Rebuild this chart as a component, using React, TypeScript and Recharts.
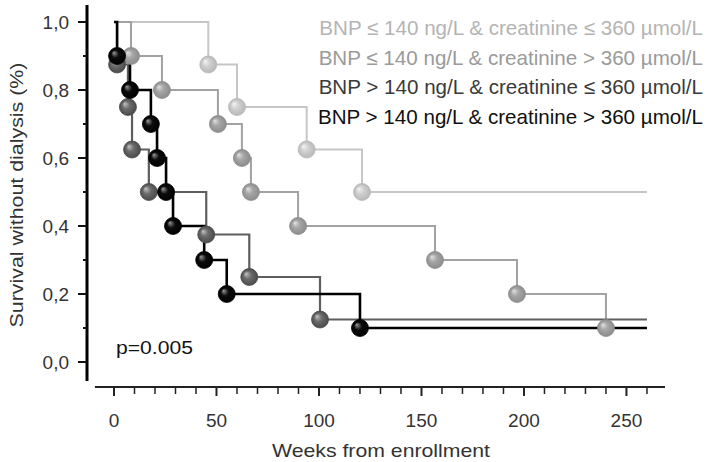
import { LineChart, Line, XAxis, YAxis, ReferenceLine } from "recharts";

// Kaplan-Meier: weeks at each event and survival after it
const lightWeeks = [46, 60, 94, 121];
const lightSurv = [0.875, 0.75, 0.625, 0.5];
const midWeeks = [8.3, 23.4, 50.7, 62.4, 66.8, 89.8, 156.6, 196.6, 240];
const midSurv = [0.9, 0.8, 0.7, 0.6, 0.5, 0.4, 0.3, 0.2, 0.1];
const darkWeeks = [1.5, 6.8, 8.8, 17, 45, 66, 100.5];
const darkSurv = [0.875, 0.75, 0.625, 0.5, 0.375, 0.25, 0.125];
const blackWeeks = [1.5, 7.8, 18, 21, 25.4, 28.8, 44, 55, 120];
const blackSurv = [0.9, 0.8, 0.7, 0.6, 0.5, 0.4, 0.3, 0.2, 0.1];

const followUp = 260;
const xTicks = [0, 10, 20, 30, 40, 50, 60, 70, 80, 90, 100, 110, 120, 130, 140, 150, 160, 170, 180, 190, 200, 210, 220, 230, 240, 250, 260];
const yTicks = [0, 0.1, 0.2, 0.3, 0.4, 0.5, 0.6, 0.7, 0.8, 0.9, 1.0];

const legendLabels = [
  "BNP ≤ 140 ng/L & creatinine ≤ 360 µmol/L",
  "BNP ≤ 140 ng/L & creatinine > 360 µmol/L",
  "BNP > 140 ng/L & creatinine ≤ 360 µmol/L",
  "BNP > 140 ng/L & creatinine > 360 µmol/L",
];

const X_DOMAIN: [number, number] = [-13.17, 268.8];
const Y_DOMAIN: [number, number] = [-0.0735, 1.05];

const FONT = "'Liberation Sans', Arial, sans-serif";

function km(weeks: number[], surv: number[]) {
  const rows = [{ w: 0, s: 1, ev: false }];
  weeks.forEach((w, i) => rows.push({ w, s: surv[i], ev: true }));
  rows.push({ w: followUp, s: surv[surv.length - 1], ev: false });
  return rows;
}

const series = [
  { id: "light", data: km(lightWeeks, lightSurv), line: "#c6c6c6", base: "#d0d0d0", hi: "#f4f4f4", lo: "#b8b8b8", width: 2 },
  { id: "mid", data: km(midWeeks, midSurv), line: "#a2a2a2", base: "#a6a6a6", hi: "#e2e2e2", lo: "#8c8c8c", width: 2 },
  { id: "dark", data: km(darkWeeks, darkSurv), line: "#5e5e5e", base: "#6c6c6c", hi: "#c4c4c4", lo: "#4a4a4a", width: 2.2 },
  { id: "black", data: km(blackWeeks, blackSurv), line: "#000000", base: "#0c0c0c", hi: "#9a9a9a", lo: "#000000", width: 2.6 },
];

const legendColors = ["#b4b4b4", "#9a9a9a", "#3a3a3a", "#101010"];

function makeDot(id: string, edge: string) {
  return (props: any) => {
    const { cx, cy, payload, index } = props;
    if (!payload || !payload.ev) return <g key={`${id}-n-${index}`} />;
    return (
      <circle key={`${id}-d-${index}`} cx={cx} cy={cy} r={8.5} fill={`url(#grad-${id})`} stroke={edge} strokeWidth={0.8} />
    );
  };
}

function YTick(props: any) {
  const { x, y, payload } = props;
  const v = payload.value as number;
  const major = Math.round(v * 10) % 2 === 0;
  return (
    <g>
      <line x1={x - (major ? 9 : 4)} x2={x} y1={y} y2={y} stroke="#111" strokeWidth={2} />
      {major && (
        <text x={x - 18} y={y} dy={7} textAnchor="end" fontSize={19} fontFamily={FONT} fill="#333">
          {v.toFixed(1).replace(".", ",")}
        </text>
      )}
    </g>
  );
}

function XTick(props: any) {
  const { x, y, payload } = props;
  const v = payload.value as number;
  const major = v % 50 === 0;
  return (
    <g>
      <line x1={x} x2={x} y1={y} y2={y + (major ? 9 : 7)} stroke="#222" strokeWidth={major ? 2 : 1.5} />
      {major && (
        <text x={x} y={y} dy={40} textAnchor="middle" fontSize={19} fontFamily={FONT} fill="#333">
          {v}
        </text>
      )}
    </g>
  );
}

export default function App() {
  return (
    <div style={{ position: "absolute", left: 0, top: 0, width: 720, height: 462, background: "#fff" }}>
      <LineChart width={720} height={462} margin={{ top: 5, right: 55, bottom: 0, left: 0 }}>
        <defs>
          {series.map((s) => (
            <radialGradient key={s.id} id={`grad-${s.id}`} cx="50%" cy="50%" r="50%" fx="30%" fy="30%">
              <stop offset="0%" stopColor={s.hi} />
              <stop offset="45%" stopColor={s.base} />
              <stop offset="100%" stopColor={s.lo} />
            </radialGradient>
          ))}
        </defs>
        <XAxis
          dataKey="w"
          type="number"
          domain={X_DOMAIN}
          allowDataOverflow
          ticks={xTicks}
          interval={0}
          axisLine={false}
          tickLine={false}
          tickSize={0}
          tickMargin={0}
          height={75}
          tick={<XTick />}
        />
        <YAxis
          type="number"
          domain={Y_DOMAIN}
          allowDataOverflow
          ticks={yTicks}
          interval={0}
          axisLine={false}
          tickLine={false}
          tickSize={0}
          tickMargin={0}
          width={87}
          tick={<YTick />}
        />
        <ReferenceLine
          segment={[{ x: X_DOMAIN[0], y: -0.056 }, { x: X_DOMAIN[0], y: 1.05 }]}
          stroke="#000"
          strokeWidth={3}
          ifOverflow="visible"
        />
        <ReferenceLine
          segment={[{ x: -9.3, y: Y_DOMAIN[0] }, { x: X_DOMAIN[1], y: Y_DOMAIN[0] }]}
          stroke="#222"
          strokeWidth={2}
          ifOverflow="visible"
        />
        {series.map((s) => (
          <Line
            key={s.id}
            data={s.data}
            dataKey="s"
            type="stepAfter"
            stroke={s.line}
            strokeWidth={s.width}
            dot={makeDot(s.id, s.lo)}
            activeDot={false}
            isAnimationActive={false}
          />
        ))}
      </LineChart>
      <svg width={720} height={462} style={{ position: "absolute", left: 0, top: 0, pointerEvents: "none" }}>
        {legendLabels.map((t, i) => (
          <text key={t} x={703} y={35 + i * 29.7} textAnchor="end" fontSize={20.6} fontFamily={FONT} fill={legendColors[i]}>
            {t}
          </text>
        ))}
        <text x={116} y={354} fontSize={19} fontFamily={FONT} fill="#111" textLength={77} lengthAdjust="spacingAndGlyphs">
          p=0.005
        </text>
        <text x={381} y={457} textAnchor="middle" fontSize={19} fontFamily={FONT} fill="#333" textLength={218} lengthAdjust="spacingAndGlyphs">
          Weeks from enrollment
        </text>
        <text
          transform="translate(23 195) rotate(-90)"
          textAnchor="middle"
          fontSize={19}
          fontFamily={FONT}
          fill="#333"
          textLength={265}
          lengthAdjust="spacingAndGlyphs"
        >
          Survival without dialysis (%)
        </text>
      </svg>
    </div>
  );
}
